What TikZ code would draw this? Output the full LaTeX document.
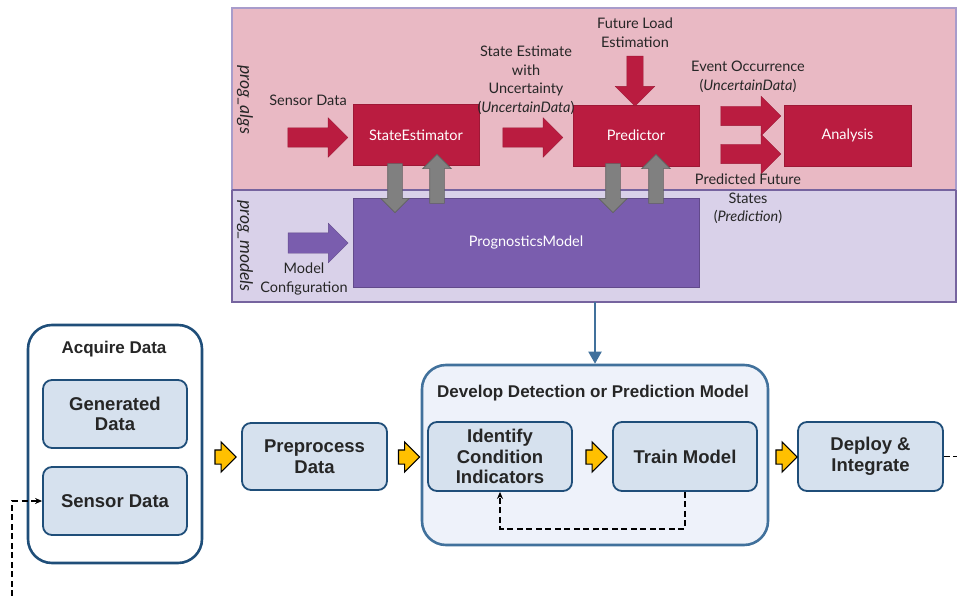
\documentclass[tikz,border=0pt]{standalone}
\usepackage{fontspec}
\setmainfont{Liberation Sans}
\newfontfamily\algfont{Lato}
\usetikzlibrary{arrows.meta,shapes.arrows,positioning}

\definecolor{algpink}{HTML}{E9B9C4}
\definecolor{modlilac}{HTML}{D9D1E9}
\definecolor{rimlilac}{HTML}{A89CCB}
\definecolor{rimdark}{HTML}{76649F}
\definecolor{algred}{HTML}{BA1C40}
\definecolor{modpurple}{HTML}{7A5DAE}
\definecolor{stepblue}{HTML}{1F4E79}
\definecolor{grpblue}{HTML}{41719C}
\definecolor{stepfill}{HTML}{D6E1EE}
\definecolor{grpfill}{HTML}{EEF2FA}
\definecolor{stepyellow}{HTML}{FFC000}

\begin{document}
\begin{tikzpicture}[x=1pt, y=-1pt,
  toptext/.style={font=\algfont\fontsize{14.5}{18.5}\selectfont, align=center, text=black!85},
  lanename/.style={font=\algfont\itshape\fontsize{17.5}{19}\selectfont, rotate=-90, text=black!85},
  redbox/.style={fill=algred, draw=algred!85!black, line width=0.6pt, minimum width=126pt,
    minimum height=61pt, text=white, font=\algfont\fontsize{14.5}{17}\selectfont},
  fatarrow/.style={single arrow, fill=algred, draw=algred!85!black, line width=0.4pt,
    inner sep=9.5pt, single arrow head extend=10pt, minimum height=60pt},
  greyarrow/.style={single arrow, fill=black!50, draw=black!62, line width=0.6pt,
    inner sep=7pt, single arrow head extend=7pt, minimum height=49pt},
  stepbox/.style={draw=stepblue, fill=stepfill, line width=1.8pt, rounded corners=9pt,
    minimum width=144pt, minimum height=68pt, align=center,
    font=\bfseries\fontsize{18.5}{20.5}\selectfont, text=black!85},
  groupbox/.style={draw=#1, line width=2.6pt, rounded corners=24pt},
  grouptitle/.style={font=\bfseries\fontsize{17}{19}\selectfont, text=black!85},
  yarrow/.style={single arrow, fill=stepyellow, draw=black, line width=1.1pt,
    inner sep=6.5pt, single arrow head extend=8pt, minimum height=21pt},
  dashline/.style={dash pattern=on 6pt off 3.5pt, line width=1.8pt}]
  \useasboundingbox (0,0) rectangle (957,596);

  % prog_algs / prog_models lanes
  \fill[algpink] (232,8) rectangle (956,190);
  \fill[modlilac] (232,190) rectangle (956,302);
  \draw[rimlilac, line width=1.6pt] (232,190) -- (232,8) -- (956,8) -- (956,190);
  \draw[rimdark, line width=1.6pt] (232,190) -- (956,190);
  \draw[rimdark, line width=1.6pt] (232,190) -- (232,302) -- (956,302) -- (956,190);
  \node[lanename] (algs) at (245,100) {prog\_algs};
  \node[lanename] (models) at (245,246) {prog\_models};

  \node[redbox] (estimator) at (416,135) {StateEstimator};
  \node[redbox] (predictor) at (636,135.5) {Predictor};
  \node[redbox, minimum width=127pt] (analysis) at (847.5,135.5) {Analysis};
  \node[fill=modpurple, draw=modpurple!80!black, line width=0.6pt, minimum width=346pt,
    minimum height=89pt, text=white, font=\algfont\fontsize{14.5}{17}\selectfont]
    (progmodel) at (526,242.5) {PrognosticsModel};

  \node[fatarrow] (sensorin) at (313,137.5) {};
  \node[fatarrow] (stateout) at (528,137.5) {};
  \node[fatarrow, inner sep=8pt, single arrow head extend=11.5pt, minimum height=50pt,
    shape border rotate=270] (loadin) at (635,77) {};
  \node[fatarrow] (eventout) at (746,116) {};
  \node[fatarrow] (statesout) at (746,154) {};
  \node[single arrow, fill=modpurple, draw=modpurple!80!black, line width=0.4pt,
    inner sep=10pt, single arrow head extend=9.5pt, minimum height=60pt]
    (configin) at (313,243) {};

  \node[toptext] at (308,100) {Sensor Data};
  \node[toptext] at (526,80) {State Estimate\\with\\Uncertainty\\(\textit{UncertainData})};
  \node[toptext] at (635,32.5) {Future Load\\Estimation};
  \node[toptext] at (748,77) {Event Occurrence\\(\textit{UncertainData})};
  \node[toptext] at (748,199) {Predicted Future\\States\\(\textit{Prediction})};
  \node[toptext] at (304,279) {Model\\Configuration};

  \node[greyarrow, shape border rotate=270] (down1) at (395,184.5) {};
  \node[greyarrow, shape border rotate=90] (up1) at (437,182.5) {};
  \node[greyarrow, shape border rotate=270] (down2) at (613,184.5) {};
  \node[greyarrow, shape border rotate=90] (up2) at (656,182.5) {};

  % workflow steps
  \node[groupbox=stepblue, fill=white, minimum width=174pt, minimum height=238pt]
    (acquire) at (115,444) {};
  \node[grouptitle] at (114,349) {Acquire Data};
  \node[stepbox] (generated) at (115,414) {Generated\\Data};
  \node[stepbox] (sensor) at (115,501) {Sensor Data};
  \node[stepbox, minimum width=145pt, minimum height=67pt] (preprocess) at (314.5,456.5) {Preprocess\\Data};

  \node[groupbox=grpblue, fill=grpfill, minimum width=346pt, minimum height=180pt]
    (develop) at (595,455) {};
  \node[grouptitle] at (593,393) {Develop Detection or Prediction Model};
  \node[stepbox, minimum height=69pt] (identify) at (500,456.5) {Identify\\Condition\\Indicators};
  \node[stepbox, minimum height=69pt] (train) at (685,456.5) {Train Model};
  \node[stepbox, minimum width=145pt, minimum height=69pt] (deploy) at (870.5,456.5) {Deploy \&\\Integrate};

  \node[yarrow] (y1) at (222,457) {};
  \node[yarrow] (y2) at (405.5,457) {};
  \node[yarrow] (y3) at (593,457) {};
  \node[yarrow] (y4) at (783,457) {};

  % links
  \coordinate (tap) at (595,302);
  \draw[grpblue, line width=2pt, -{Triangle[width=13pt,length=12pt]}] (tap) -- (develop.north);
  \draw[dashline, -{Stealth[length=7pt,width=6pt]}] (train.south) -- ++(0,37) -| (identify.south);
  \coordinate (loopin) at (12,596);
  \coordinate (loopout) at (957,456.5);
  \draw[dashline, -{Stealth[length=7pt,width=6pt]}] (loopin) |- (sensor.west);
  \draw[dashline] (deploy.east) -- (loopout);
\end{tikzpicture}
\end{document}
